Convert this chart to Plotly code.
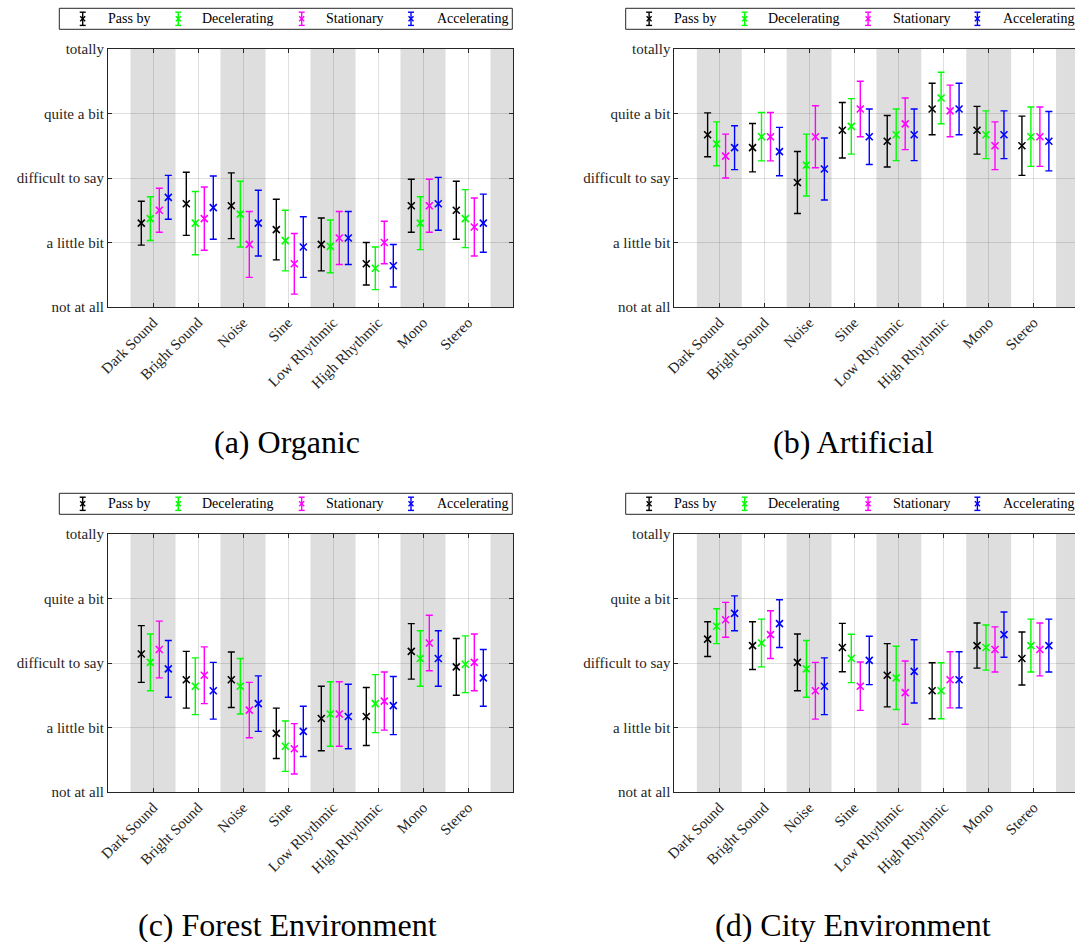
import plotly.graph_objects as go

W, H = 1075, 942

categories = ["Dark Sound", "Bright Sound", "Noise", "Sine", "Low Rhythmic",
              "High Rhythmic", "Mono", "Stereo"]
y_tick_labels = ["not at all", "a little bit", "difficult to say", "quite a bit", "totally"]
series_names = ["Pass by", "Decelerating", "Stationary", "Accelerating"]
series_colors = ["#000000", "#00ff00", "#ff00ff", "#0000ff"]
captions = ["(a) Organic", "(b) Artificial", "(c) Forest Environment", "(d) City Environment"]

# (a) Organic
organic_pass_by = [1.30, 1.60, 1.57, 1.20, 0.97, 0.67, 1.57, 1.50]
organic_decel = [1.37, 1.30, 1.44, 1.03, 0.94, 0.60, 1.30, 1.37]
organic_stat = [1.50, 1.37, 0.97, 0.67, 1.07, 1.00, 1.57, 1.24]
organic_accel = [1.70, 1.54, 1.30, 0.93, 1.07, 0.64, 1.60, 1.30]
organic_err = [0.34, 0.49, 0.51, 0.47, 0.41, 0.33, 0.41, 0.45]

# (b) Artificial
artificial_pass_by = [2.67, 2.47, 1.93, 2.74, 2.57, 3.07, 2.74, 2.50]
artificial_decel = [2.53, 2.64, 2.20, 2.80, 2.67, 3.24, 2.67, 2.64]
artificial_stat = [2.34, 2.64, 2.64, 3.07, 2.84, 3.04, 2.50, 2.64]
artificial_accel = [2.47, 2.41, 2.14, 2.64, 2.67, 3.07, 2.67, 2.57]
artificial_err = [0.34, 0.375, 0.48, 0.43, 0.40, 0.40, 0.37, 0.46]

# (c) Forest Environment
forest_pass_by = [2.14, 1.74, 1.74, 0.91, 1.14, 1.17, 2.18, 1.94]
forest_decel = [2.01, 1.64, 1.64, 0.71, 1.21, 1.37, 2.07, 1.98]
forest_stat = [2.21, 1.81, 1.27, 0.67, 1.21, 1.41, 2.31, 2.01]
forest_accel = [1.91, 1.57, 1.37, 0.94, 1.17, 1.34, 2.07, 1.77]
forest_err = [0.44, 0.44, 0.43, 0.39, 0.50, 0.45, 0.43, 0.44]

# (d) City Environment
city_pass_by = [2.37, 2.27, 2.01, 2.24, 1.81, 1.57, 2.27, 2.07]
city_decel = [2.57, 2.31, 1.91, 2.07, 1.77, 1.57, 2.24, 2.27]
city_stat = [2.67, 2.44, 1.57, 1.64, 1.54, 1.74, 2.21, 2.21]
city_accel = [2.77, 2.61, 1.64, 2.04, 1.87, 1.74, 2.44, 2.27]
city_err = [0.27, 0.37, 0.44, 0.375, 0.49, 0.435, 0.35, 0.41]

panels = [
    ([organic_pass_by, organic_decel, organic_stat, organic_accel], organic_err),
    ([artificial_pass_by, artificial_decel, artificial_stat, artificial_accel], artificial_err),
    ([forest_pass_by, forest_decel, forest_stat, forest_accel], forest_err),
    ([city_pass_by, city_decel, city_stat, city_accel], city_err),
]

series_offsets = [-0.26, -0.06, 0.14, 0.34]

# panel pixel geometry: left, right, top, bottom, x range max
geo = [
    (108, 513, 49, 307, 9.0),
    (674.4, 1075, 49, 307, (1075 - 674.4) / 44.9),
    (108, 513, 534, 792, 9.0),
    (674.4, 1075, 534, 792, (1075 - 674.4) / 44.9),
]

AXC = "#262626"
FONT = "Liberation Serif, Times New Roman, Times, serif"

def px(x):
    return x / W

def py(y):
    return 1 - y / H

fig = go.Figure()
layout = dict(
    width=W, height=H, margin=dict(l=0, r=0, t=0, b=0),
    paper_bgcolor="white", plot_bgcolor="white", showlegend=False,
    font=dict(family=FONT, size=15, color=AXC),
)
shapes = []
annotations = []
cat_pos = list(range(1, len(categories) + 1))

for p, ((series, err), (l, r, t, b, xmax)) in enumerate(zip(panels, geo)):
    sfx = "" if p == 0 else str(p + 1)
    xa, ya = "x" + sfx, "y" + sfx
    layout["xaxis" + sfx] = dict(
        domain=[px(l), px(r)], range=[0, xmax], anchor=ya,
        tickmode="array", tickvals=cat_pos, ticktext=categories, tickangle=-45,
        tickfont=dict(family=FONT, size=15, color=AXC),
        showline=True, linecolor=AXC, linewidth=1, mirror="ticks",
        ticks="inside", ticklen=4, tickcolor=AXC,
        showgrid=True, gridcolor="rgba(38,38,38,0.15)", gridwidth=1,
        zeroline=False, automargin=False, fixedrange=True,
    )
    layout["yaxis" + sfx] = dict(
        domain=[py(b), py(t)], range=[0, 4], anchor=xa,
        tickmode="array", tickvals=[0, 1, 2, 3, 4], ticktext=y_tick_labels,
        tickfont=dict(family=FONT, size=15, color=AXC),
        showline=True, linecolor=AXC, linewidth=1,
        mirror=("ticks" if p % 2 == 0 else False),
        ticks="inside", ticklen=4, tickcolor=AXC,
        showgrid=True, gridcolor="rgba(38,38,38,0.15)", gridwidth=1,
        zeroline=False, automargin=False, fixedrange=True,
    )
    # alternating gray bands
    for k in range(1, 11, 2):
        x0, x1 = k - 0.5, min(k + 0.5, xmax)
        if x0 >= xmax:
            continue
        shapes.append(dict(type="rect", xref=xa, yref=ya, x0=x0, x1=x1, y0=0, y1=4,
                           fillcolor="#dedede", line=dict(width=0), layer="below"))
    # data traces
    for s, (vals, col, off) in enumerate(zip(series, series_colors, series_offsets)):
        fig.add_trace(go.Scatter(
            x=[c + off for c in cat_pos], y=vals, mode="markers",
            marker=dict(symbol="x-thin", size=7, color=col, line=dict(width=1.6, color=col)),
            error_y=dict(type="data", array=err, visible=True, color=col, thickness=1.4, width=3.5),
            xaxis=xa, yaxis=ya, name=series_names[s], hoverinfo="skip",
        ))
    # legend box (manual, MATLAB-like)
    lx0 = l - 48.7
    lx1 = lx0 + 453
    ly0, ly1 = t - 40.7, t - 19.7
    shapes.append(dict(type="rect", xref="paper", yref="paper",
                       x0=px(lx0), x1=px(lx1), y0=py(ly1), y1=py(ly0),
                       fillcolor="white", line=dict(color=AXC, width=1)))
    glyph_dx = [23.4, 119.0, 242.4, 351.7]
    text_dx = [46.7, 140.7, 265.0, 375.7]
    cy = (ly0 + ly1) / 2
    for s in range(4):
        gx = lx0 + glyph_dx[s]
        col = series_colors[s]
        segs = [
            (gx, cy - 6.6, gx, cy + 6.6),
            (gx - 3, cy - 6.6, gx + 3, cy - 6.6),
            (gx - 3, cy + 6.6, gx + 3, cy + 6.6),
            (gx - 2.5, cy - 2.5, gx + 2.5, cy + 2.5),
            (gx - 2.5, cy + 2.5, gx + 2.5, cy - 2.5),
        ]
        for (a0, b0, a1, b1) in segs:
            shapes.append(dict(type="line", xref="paper", yref="paper",
                               x0=px(a0), y0=py(b0), x1=px(a1), y1=py(b1),
                               line=dict(color=col, width=1.4)))
        annotations.append(dict(text=series_names[s], xref="paper", yref="paper",
                                x=px(lx0 + text_dx[s]), y=py(cy), xanchor="left", yanchor="middle",
                                showarrow=False, font=dict(family=FONT, size=14, color="#000000")))
    # caption
    cap_x = 287 if p % 2 == 0 else 853
    cap_y = 442 if p < 2 else 925
    annotations.append(dict(text=captions[p], xref="paper", yref="paper",
                            x=px(cap_x), y=py(cap_y), xanchor="center", yanchor="middle",
                            showarrow=False, font=dict(family=FONT, size=32, color="#000000")))

layout["shapes"] = shapes
layout["annotations"] = annotations
fig.update_layout(**layout)
fig.write_html("out.html")
